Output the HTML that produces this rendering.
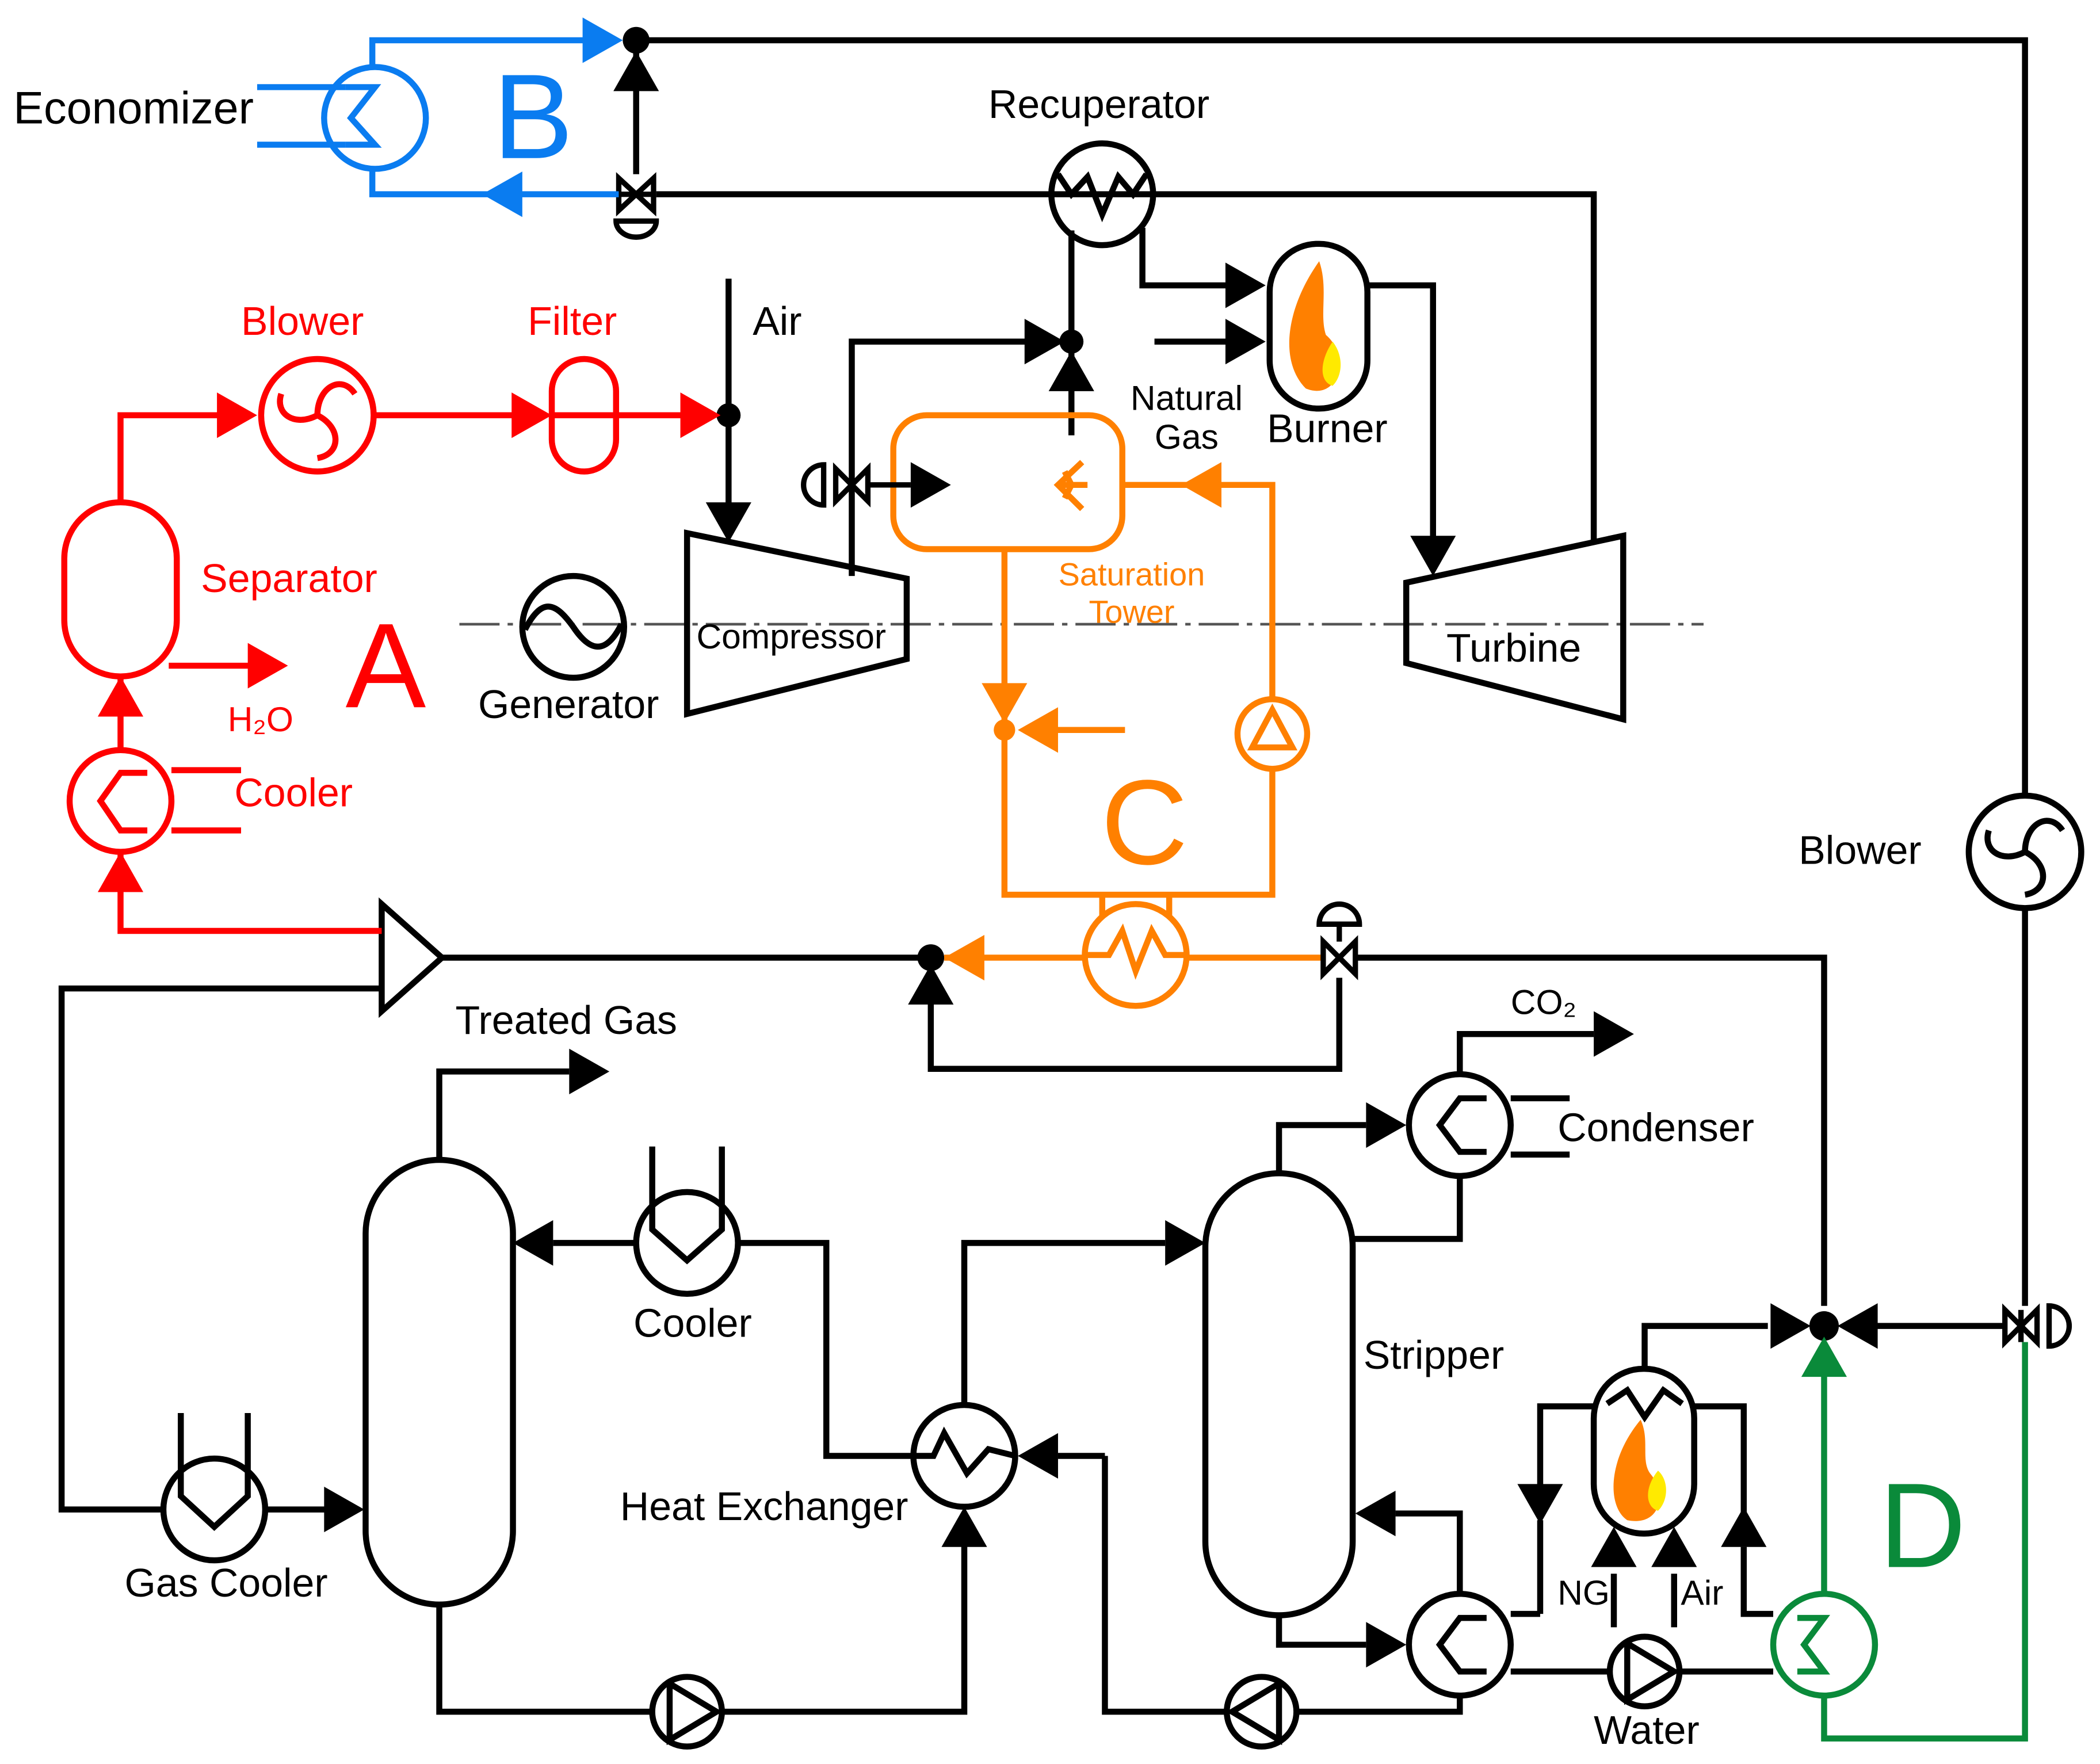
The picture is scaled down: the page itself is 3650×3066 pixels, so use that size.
<!DOCTYPE html>
<html><head><meta charset="utf-8"><style>html,body{margin:0;padding:0;background:#fff}svg{display:block}</style></head>
<body>
<svg width="3650" height="3066" viewBox="0 0 1568 1317" xmlns="http://www.w3.org/2000/svg" font-family="Liberation Sans, sans-serif">
<defs>
<path id="a" d="M0,0 L-30,-17 L-30,17Z"/>
</defs>
<rect width="1568" height="1317" fill="#fff"/>

<line x1="343" y1="466" x2="1272" y2="466" stroke="#555" stroke-width="2" stroke-dasharray="30,6,4,6"/>

<g fill="none" stroke="#000" stroke-width="4.5" stroke-linejoin="miter">
<polyline points="475,30 1512,30 1512,594"/>
<line x1="1512" y1="678" x2="1512" y2="975"/>
<line x1="475" y1="30" x2="475" y2="130"/>
<polyline points="490,145 1190,145 1190,405"/>
<circle cx="823" cy="145" r="38"/>
<polyline points="790,130 800,145 812,132 823,160 835,132 846,145 856,130"/>
<line x1="800" y1="172" x2="800" y2="325"/>
<polyline points="853,170 853,213 920,213"/>
<rect x="948" y="182" width="73" height="123" rx="36"/>
<polyline points="1021,213 1070,213 1070,405"/>
<line x1="862" y1="255" x2="920" y2="255"/>
<polygon points="1050,435 1212,400 1212,537 1050,495"/>
<polygon points="513,398 677,432 677,492 513,533"/>
<circle cx="428" cy="468" r="38"/>
<path d="M392,470 C405,445 415,450 428,468 C440,486 452,490 464,466"/>
<line x1="544" y1="208" x2="544" y2="380"/>
<polyline points="636,430 636,255 770,255"/>
<polygon points="285,675 330,715 285,755"/>
<line x1="330" y1="715" x2="695" y2="715"/>
<polyline points="285,738 46,738 46,1127 122,1127"/>
<circle cx="160" cy="1127" r="38"/>
<polyline points="135,1055 135,1117 160,1140 185,1117 185,1055"/>
<line x1="198" y1="1127" x2="245" y2="1127"/>
<polyline points="1012,715 1362,715 1362,975"/>
<polyline points="1000,730 1000,798 695,798 695,750"/>
<rect x="273" y="866" width="110" height="332" rx="55"/>
<polyline points="328,866 328,800 425,800"/>
<circle cx="513" cy="928" r="38"/>
<polyline points="487,856 487,918 513,941 539,918 539,856"/>
<line x1="475" y1="928" x2="413" y2="928"/>
<polyline points="551,928 617,928 617,1087 682,1087"/>
<circle cx="720" cy="1087" r="38"/>
<polyline points="682,1087 697,1087 705,1070 722,1100 738,1082 758,1087"/>
<polyline points="720,1049 720,928 870,928"/>
<polyline points="328,1198 328,1278 486,1278"/>
<circle cx="513" cy="1278" r="26"/>
<polyline points="500,1257 500,1299 535,1278 500,1257"/>
<polyline points="540,1278 720,1278 720,1150"/>
<polyline points="825,1087 790,1087"/>
<polyline points="825,1087 825,1278 915,1278"/>
<circle cx="942" cy="1278" r="26"/>
<polyline points="955,1257 955,1299 920,1278 955,1257"/>
<polyline points="969,1278 1090,1278 1090,1266"/>
<rect x="900" y="876" width="110" height="330" rx="55"/>
<polyline points="955,876 955,840 1020,840"/>
<circle cx="1090" cy="840" r="38"/>
<polyline points="1110,820 1090,820 1075,840 1090,860 1110,860"/>
<line x1="1128" y1="820" x2="1172" y2="820"/>
<line x1="1128" y1="862" x2="1172" y2="862"/>
<polyline points="1090,802 1090,772 1190,772"/>
<polyline points="1010,925 1090,925 1090,878"/>
<polyline points="955,1206 955,1228 1020,1228"/>
<circle cx="1090" cy="1228" r="38"/>
<polyline points="1110,1208 1090,1208 1075,1228 1090,1248 1110,1248"/>
<polyline points="1090,1190 1090,1130 1042,1130"/>
<line x1="1128" y1="1205" x2="1150" y2="1205"/>
<line x1="1128" y1="1248" x2="1200" y2="1248"/>
<circle cx="1228" cy="1248" r="26"/>
<polyline points="1215,1227 1215,1269 1250,1248 1215,1227"/>
<line x1="1255" y1="1248" x2="1324" y2="1248"/>
<rect x="1190" y="1022" width="75" height="123" rx="37"/>
<polyline points="1200,1048 1215,1038 1228,1058 1242,1038 1256,1048"/>
<polyline points="1190,1050 1150,1050 1150,1110"/>
<polyline points="1265,1050 1302,1050 1302,1155"/>
<polyline points="1302,1155 1302,1205 1324,1205"/>
<line x1="1150" y1="1135" x2="1150" y2="1205"/>
<line x1="1205" y1="1175" x2="1205" y2="1215"/>
<line x1="1250" y1="1175" x2="1250" y2="1215"/>
<polyline points="1228,1022 1228,990 1320,990"/>
<line x1="1400" y1="990" x2="1497" y2="990"/>
<circle cx="1512" cy="636" r="42"/>
</g>

<g fill="none" stroke="#000" stroke-width="4.5">
<path d="M1512,636 C1512,615 1530,605 1540,620"/>
<path d="M1512,636 C1530,645 1530,665 1512,668"/>
<path d="M1512,636 C1495,645 1480,635 1485,620"/>
</g>

<g fill="#000">
<use href="#a" transform="translate(475,38) rotate(-90)"/>
<use href="#a" transform="translate(945,213)"/>
<use href="#a" transform="translate(945,255)"/>
<use href="#a" transform="translate(1070,430) rotate(90)"/>
<use href="#a" transform="translate(544,405) rotate(90)"/>
<use href="#a" transform="translate(795,255)"/>
<use href="#a" transform="translate(800,262) rotate(-90)"/>
<use href="#a" transform="translate(710,362)"/>
<use href="#a" transform="translate(695,720) rotate(-90)"/>
<use href="#a" transform="translate(455,800)"/>
<use href="#a" transform="translate(383,928) rotate(180)"/>
<use href="#a" transform="translate(272,1127)"/>
<use href="#a" transform="translate(900,928)"/>
<use href="#a" transform="translate(720,1125) rotate(-90)"/>
<use href="#a" transform="translate(760,1087) rotate(180)"/>
<use href="#a" transform="translate(1050,840)"/>
<use href="#a" transform="translate(1220,772)"/>
<use href="#a" transform="translate(1012,1130) rotate(180)"/>
<use href="#a" transform="translate(1050,1228)"/>
<use href="#a" transform="translate(1150,1138) rotate(90)"/>
<use href="#a" transform="translate(1205,1140) rotate(-90)"/>
<use href="#a" transform="translate(1250,1140) rotate(-90)"/>
<use href="#a" transform="translate(1302,1125) rotate(-90)"/>
<use href="#a" transform="translate(1352,990)"/>
<use href="#a" transform="translate(1372,990) rotate(180)"/>
<circle cx="475" cy="30" r="10"/>
<circle cx="544" cy="310" r="9"/>
<circle cx="800" cy="255" r="9"/>
<circle cx="695" cy="715" r="10"/>
<circle cx="1362" cy="990" r="11"/>
</g>

<g stroke="#000" stroke-width="4" fill="none">
<polygon points="462,133 488,157 488,133 462,157"/>
<line x1="462" y1="145" x2="488" y2="145"/>
<path d="M460,165 A15,12 0 0 0 490,165 Z"/>
<polygon points="1497,978 1521,1002 1521,978 1497,1002"/>
<line x1="1509" y1="978" x2="1509" y2="1002"/>
<path d="M1530,975 A15,15 0 0 1 1530,1005 Z"/>
</g>

<g fill="none" stroke="#0a7cf0" stroke-width="4.5">
<polyline points="278,50 278,30 440,30"/>
<polyline points="278,126 278,145 462,145"/>
<circle cx="280" cy="88" r="38"/>
<line x1="192" y1="65" x2="258" y2="65"/>
<line x1="192" y1="108" x2="258" y2="108"/>
<polyline points="258,65 280,65 262,88 280,108 258,108"/>
</g>
<g fill="#0a7cf0">
<use href="#a" transform="translate(465,30)"/>
<use href="#a" transform="translate(360,145) rotate(180)"/>
</g>
<text x="368" y="118" font-size="90" fill="#0a7cf0">B</text>

<g fill="none" stroke="#f00" stroke-width="4.5">
<polyline points="90,375 90,310 170,310"/>
<circle cx="237" cy="310" r="42"/>
<path d="M237,310 C237,289 255,279 265,294"/>
<path d="M237,310 C255,319 255,339 237,342"/>
<path d="M237,310 C220,319 205,309 210,294"/>
<line x1="279" y1="310" x2="390" y2="310"/>
<rect x="412" y="268" width="48" height="84" rx="24"/>
<line x1="412" y1="310" x2="460" y2="310"/>
<line x1="460" y1="310" x2="520" y2="310"/>
<rect x="48" y="375" width="84" height="130" rx="42"/>
<polyline points="126,497 190,497"/>
<line x1="90" y1="505" x2="90" y2="560"/>
<circle cx="90" cy="598" r="38"/>
<polyline points="110,577 90,577 75,598 90,620 110,620"/>
<line x1="128" y1="575" x2="180" y2="575"/>
<line x1="128" y1="620" x2="180" y2="620"/>
<polyline points="90,636 90,695 285,695"/>
</g>
<g fill="#f00">
<use href="#a" transform="translate(192,310)"/>
<use href="#a" transform="translate(412,310)"/>
<use href="#a" transform="translate(538,310)"/>
<use href="#a" transform="translate(215,497)"/>
<use href="#a" transform="translate(90,505) rotate(-90)"/>
<use href="#a" transform="translate(90,636) rotate(-90)"/>
</g>
<text x="258" y="528" font-size="90" fill="#f00">A</text>

<g fill="none" stroke="#ff8000" stroke-width="4.5">
<rect x="667" y="310" width="171" height="100" rx="25"/>
<polyline points="838,362 950,362 950,520"/>
<circle cx="950" cy="548" r="26"/>
<polygon points="950,530 935,558 965,558"/>
<polyline points="950,574 950,668 750,668 750,410"/>
<line x1="770" y1="545" x2="840" y2="545"/>
<circle cx="848" cy="713" r="38"/>
<polyline points="823,684 823,668"/>
<polyline points="873,684 873,668"/>
<polyline points="810,713 828,713 838,695 848,725 860,695 870,713 886,713"/>
<line x1="886" y1="715" x2="990" y2="715"/>
<line x1="810" y1="715" x2="705" y2="715"/>
<path d="M808,345 L790,362 L808,380 M790,362 L812,362 M795,352 L800,362 L795,372"/>
</g>
<g fill="#ff8000">
<use href="#a" transform="translate(882,362) rotate(180)"/>
<use href="#a" transform="translate(750,540) rotate(90)"/>
<use href="#a" transform="translate(760,545) rotate(180)"/>
<use href="#a" transform="translate(705,715) rotate(180)"/>
<circle cx="750" cy="545" r="8"/>
</g>
<g stroke="#000" stroke-width="4" fill="none">
<polygon points="988,703 1012,727 1012,703 988,727"/>
<path d="M985,690 A15,15 0 0 1 1015,690 Z"/>
<line x1="1000" y1="690" x2="1000" y2="703"/>
<polygon points="624,350 648,374 648,350 624,374"/>
<line x1="636" y1="350" x2="636" y2="374"/>
<path d="M615,347 A15,15 0 0 0 615,377 Z"/>
<line x1="648" y1="362" x2="680" y2="362"/>
</g>
<text x="822" y="645" font-size="90" fill="#ff8000">C</text>
<text x="845" y="437" font-size="24" fill="#ff8000" text-anchor="middle">Saturation</text>
<text x="845" y="465" font-size="24" fill="#ff8000" text-anchor="middle">Tower</text>

<g fill="none" stroke="#0a8a3a" stroke-width="4.5">
<circle cx="1362" cy="1228" r="38"/>
<polyline points="1342,1208 1362,1208 1347,1228 1362,1248 1342,1248"/>
<line x1="1362" y1="1190" x2="1362" y2="1025"/>
<polyline points="1362,1266 1362,1298 1512,1298 1512,1002"/>
</g>
<g fill="#0a8a3a"><use href="#a" transform="translate(1362,998) rotate(-90)"/></g>
<text x="1403" y="1170" font-size="90" fill="#0a8a3a">D</text>

<g>
<path d="M985,195 C960,230 955,270 975,290 C1000,300 1008,265 990,250 C985,235 992,215 985,195Z" fill="#ff8000"/>
<path d="M995,255 C985,270 985,285 995,288 C1003,280 1003,265 995,255Z" fill="#ffea00"/>
<path d="M1225,1060 C1200,1090 1200,1125 1215,1135 C1240,1140 1245,1115 1232,1100 C1225,1090 1232,1075 1225,1060Z" fill="#ff8000"/>
<path d="M1238,1098 C1228,1110 1228,1125 1238,1128 C1246,1120 1246,1105 1238,1098Z" fill="#ffea00"/>
</g>

<g font-size="30" fill="#000">
<text x="10" y="92" font-size="34">Economizer</text>
<text x="738" y="88">Recuperator</text>
<text x="562" y="250">Air</text>
<text x="946" y="330">Burner</text>
<text x="1080" y="494">Turbine</text>
<text x="357" y="536">Generator</text>
<text x="340" y="772">Treated Gas</text>
<text x="473" y="998">Cooler</text>
<text x="463" y="1135">Heat Exchanger</text>
<text x="93" y="1192">Gas Cooler</text>
<text x="1018" y="1022">Stripper</text>
<text x="1163" y="852">Condenser</text>
<text x="1343" y="645">Blower</text>
<text x="1190" y="1302">Water</text>
</g>
<g font-size="26" fill="#000">
<text x="886" y="306" text-anchor="middle">Natural</text>
<text x="886" y="335" text-anchor="middle">Gas</text>
<text x="520" y="484">Compressor</text>
<text x="1128" y="757">CO₂</text>
<text x="1163" y="1198">NG</text>
<text x="1255" y="1198">Air</text>
</g>
<g font-size="30" fill="#f00">
<text x="180" y="250">Blower</text>
<text x="394" y="250">Filter</text>
<text x="150" y="442">Separator</text>
<text x="175" y="602">Cooler</text>
<text x="170" y="546" font-size="26">H₂O</text>
</g>
</svg>
</body></html>
